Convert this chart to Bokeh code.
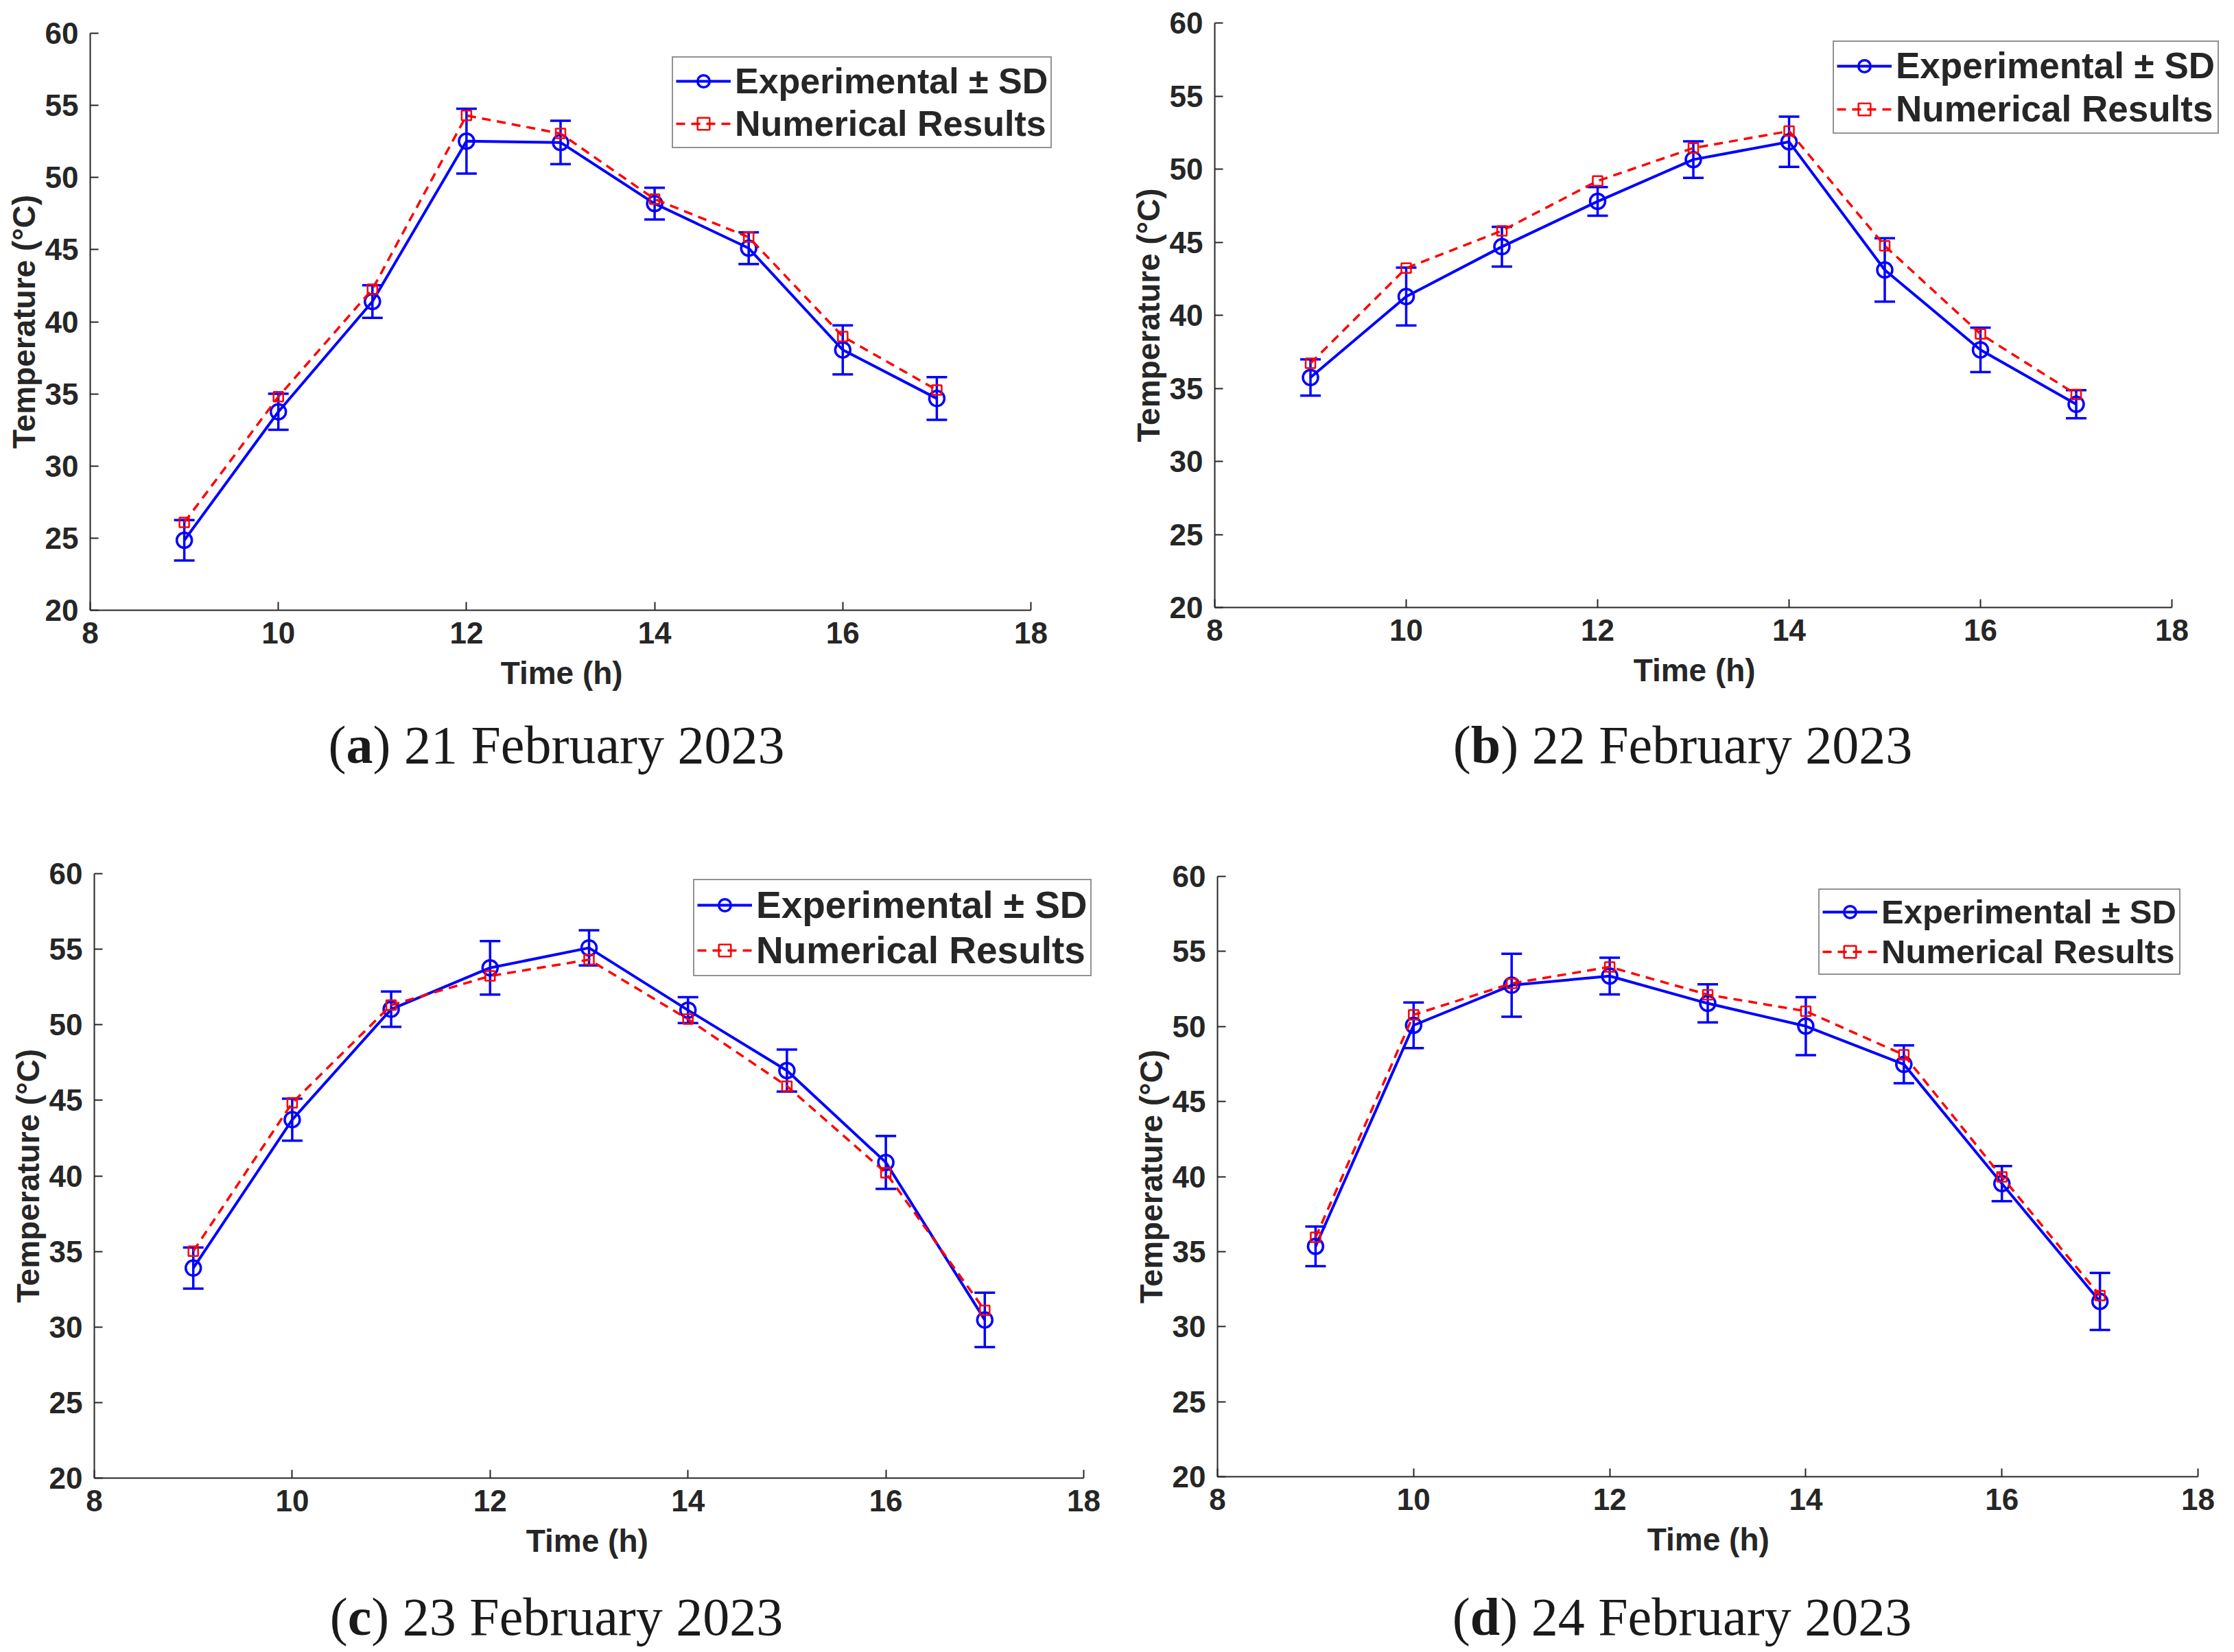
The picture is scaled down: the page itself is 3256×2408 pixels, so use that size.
import math
from bokeh.plotting import figure
from bokeh.models import (ColumnDataSource, Range1d, FixedTicker, Whisker, TeeHead,
                          Legend, LegendItem, Div)
from bokeh.layouts import row, column
from bokeh.embed import file_html
from bokeh.resources import INLINE

# ---------------- data ----------------
hours = [9, 10, 11, 12, 13, 14, 15, 16, 17]
x_ticks = [8, 10, 12, 14, 16, 18]
y_ticks = [20, 25, 30, 35, 40, 45, 50, 55, 60]

# 21 February 2023
exp_21 = [24.85, 33.76, 41.40, 52.52, 52.43, 48.19, 45.10, 38.05, 34.68]
sd_21 = [1.40, 1.25, 1.13, 2.25, 1.50, 1.10, 1.10, 1.70, 1.48]
num_21 = [26.09, 34.80, 42.26, 54.30, 53.05, 48.50, 45.87, 38.98, 35.27]

# 22 February 2023
exp_22 = [35.74, 41.28, 44.69, 47.79, 50.65, 51.87, 43.10, 37.63, 33.91]
sd_22 = [1.24, 1.98, 1.36, 0.98, 1.25, 1.72, 2.17, 1.52, 0.96]
num_22 = [36.71, 43.23, 45.78, 49.19, 51.44, 52.60, 44.75, 38.72, 34.58]

# 23 February 2023
exp_23 = [33.90, 43.72, 51.03, 53.77, 55.09, 50.97, 46.97, 40.89, 30.47]
sd_23 = [1.36, 1.39, 1.17, 1.77, 1.16, 0.86, 1.39, 1.75, 1.80]
num_23 = [35.02, 44.83, 51.30, 53.23, 54.31, 50.37, 45.94, 40.20, 31.10]

# 24 February 2023
exp_24 = [35.35, 50.08, 52.75, 53.36, 51.54, 50.02, 47.48, 39.53, 31.68]
sd_24 = [1.32, 1.52, 2.10, 1.22, 1.27, 1.93, 1.26, 1.17, 1.90]
num_24 = [35.95, 50.78, 52.87, 53.97, 52.12, 51.02, 48.11, 39.98, 32.07]

AX = "#262626"
BLUE = "#0000FF"
RED = "#FF0000"
FONT = "Liberation Sans"


def make_panel(exp, sd, num, aw, fh, ext, left, right, top, bottom, leg_xy, leg_size):
    # the frame runs "ext" px past x=18 so the legend can stick out like in the original;
    # the x axis itself stops at 18 (bounds)
    x_end = 18 + 10.0 * ext / aw
    p = figure(frame_width=aw + ext, frame_height=fh, min_border_left=left,
               min_border_right=right, min_border_top=top, min_border_bottom=bottom,
               x_range=Range1d(8, x_end), y_range=Range1d(20, 60),
               output_backend="svg", toolbar_location=None)
    p.outline_line_color = None
    p.grid.visible = False
    p.background_fill_color = "white"
    p.border_fill_color = "white"

    src = ColumnDataSource(data=dict(
        x=hours, exp=exp, num=num,
        upper=[e + s for e, s in zip(exp, sd)],
        lower=[e - s for e, s in zip(exp, sd)]))

    err = Whisker(source=src, base="x", upper="upper", lower="lower",
                  dimension="height", line_color=BLUE, line_width=3.5,
                  upper_head=TeeHead(size=30, line_color=BLUE, line_width=3.5),
                  lower_head=TeeHead(size=30, line_color=BLUE, line_width=3.5))
    p.add_layout(err)

    l1 = p.line("x", "exp", source=src, line_color=BLUE, line_width=4)
    c1 = p.scatter("x", "exp", source=src, marker="circle", size=22,
                   fill_color=None, line_color=BLUE, line_width=3.5)
    bar = p.scatter([], [], marker="dash", angle=math.pi / 2, size=20,
                    line_color=BLUE, line_width=3.5)
    l2 = p.line("x", "num", source=src, line_color=RED, line_width=3.5,
                line_dash="13 9")
    s2 = p.scatter("x", "num", source=src, marker="square", size=14,
                   fill_color=None, line_color=RED, line_width=2.5)

    legend = Legend(items=[
        LegendItem(label="Experimental ± SD", renderers=[l1, c1, bar]),
        LegendItem(label="Numerical Results", renderers=[l2, s2]),
    ], location=leg_xy, margin=0, padding=4, spacing=2, label_standoff=6,
        glyph_width=80, glyph_height=44,
        label_text_font=FONT, label_text_font_style="bold",
        label_text_font_size=leg_size, label_text_color=AX,
        border_line_color=AX, border_line_width=2, background_fill_alpha=1.0)
    p.add_layout(legend)

    for ax in (p.xaxis, p.yaxis):
        ax.axis_line_color = AX
        ax.axis_line_width = 2
        ax.major_tick_line_color = AX
        ax.major_tick_line_width = 2
        ax.major_tick_in = 12
        ax.major_tick_out = 0
        ax.minor_tick_line_color = None
        ax.major_label_text_font = FONT
        ax.major_label_text_font_style = "bold"
        ax.major_label_text_font_size = "44px"
        ax.major_label_text_color = AX
        ax.axis_label_text_font = FONT
        ax.axis_label_text_font_style = "bold"
        ax.axis_label_text_font_size = "46px"
        ax.axis_label_text_color = AX
        ax.major_label_standoff = 17
    p.xaxis.axis_label_standoff = 14
    p.yaxis.axis_label_standoff = 2
    p.xaxis.bounds = (8, 18)
    p.xaxis.ticker = FixedTicker(ticks=x_ticks)
    p.yaxis.ticker = FixedTicker(ticks=y_ticks)
    # trailing no-break spaces pull the centred label back over the 8..18 axis
    pad = "\u00a0" * int(round(ext / 12.8))
    p.xaxis.axis_label = "Time (h)" + pad
    p.yaxis.axis_label = "Temperature (°C)"
    return p


def caption(letter, date, width, height, pad_top, pad_left=0):
    html = ('<div style="width:%dpx;box-sizing:border-box;text-align:center;'
            'font-family:\'Liberation Serif\';font-size:78px;line-height:1.15;'
            'color:#1a1a1a;padding-top:%dpx;padding-left:%dpx;">'
            '(<b>%s</b>) %s</div>'
            % (width, pad_top, pad_left, letter, date))
    return Div(text=html, width=width, height=height)


pa = make_panel(exp_21, sd_21, num_21, 1371, 841, 80, 131, 30, 48, 123, (848, 673), "52px")
pb = make_panel(exp_22, sd_22, num_22, 1395, 852, 80, 148, 0, 33, 127, (901, 690), "53px")
pc = make_panel(exp_23, sd_23, num_23, 1442, 881, 33, 137, 0, 31, 130, (873, 731), "55px")
pd = make_panel(exp_24, sd_24, num_24, 1429, 875, 40, 152, 0, 35, 132, (876, 731), "49px")

ca = caption("a", "21 February 2023", 1612, 220, 24)
cb = caption("b", "22 February 2023", 1623, 220, 24, 28)
cc = caption("c", "23 February 2023", 1612, 110, 23)
cd = caption("d", "24 February 2023", 1621, 110, 23, 28)

layout = column(
    row(column(pa, ca), column(pb, cb)),
    row(column(pc, cc), column(pd, cd)),
)

open("out.html", "w").write(file_html(layout, INLINE))
